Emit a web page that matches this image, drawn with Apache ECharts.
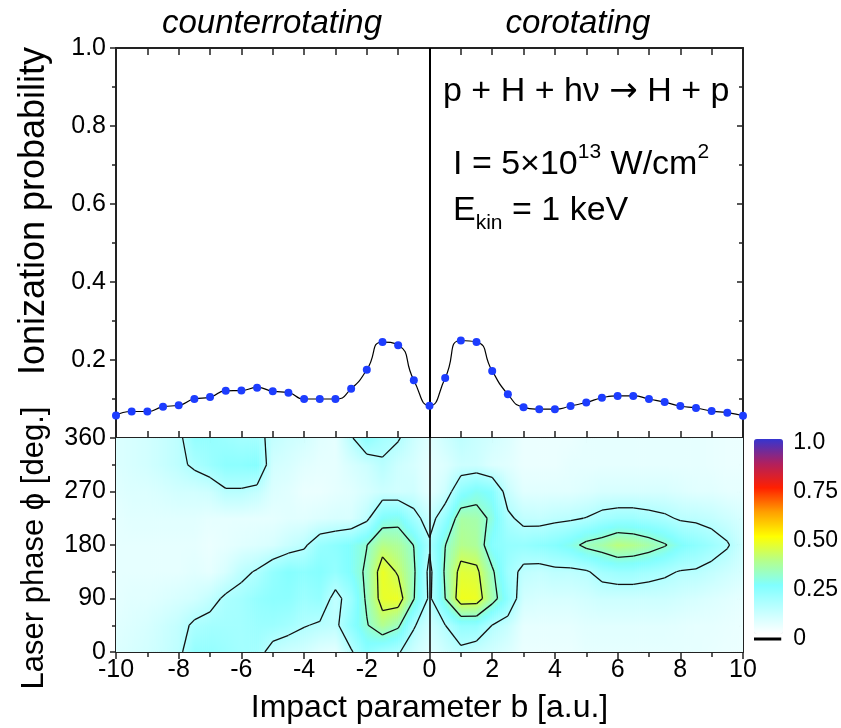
<!DOCTYPE html>
<html>
<head>
<meta charset="utf-8">
<script src="https://cdn.jsdelivr.net/npm/echarts@6/dist/echarts.min.js"></script>
<style>
html,body{margin:0;padding:0;background:#fff;}
#chart{width:841px;height:728px;}
</style>
</head>
<body>
<div id="chart"></div>
<script>
// ---------------- data ----------------
const impactB = [-10,-9.5,-9,-8.5,-8,-7.5,-7,-6.5,-6,-5.5,-5,-4.5,-4,-3.5,-3,-2.5,-2,-1.5,-1,-0.5,0,0.5,1,1.5,2,2.5,3,3.5,4,4.5,5,5.5,6,6.5,7,7.5,8,8.5,9,9.5,10];
const ionizationProbability = [0.058,0.068,0.068,0.080,0.084,0.100,0.105,0.121,0.122,0.129,0.120,0.116,0.100,0.100,0.100,0.126,0.175,0.246,0.238,0.148,0.083,0.154,0.250,0.246,0.172,0.112,0.079,0.074,0.074,0.082,0.091,0.103,0.108,0.108,0.100,0.092,0.082,0.077,0.069,0.065,0.057];

const phaseGrid = [0,45,90,135,180,225,270,315,360];
const phaseRow0   = [0.07,0.08,0.09,0.11,0.13,0.21,0.21,0.195,0.18,0.18,0.12,0.10,0.09,0.06,0.05,0.14,0.225,0.175,0.158,0.10,0.06,0.10,0.13,0.107,0.09,0.07,0.04,0.04,0.04,0.04,0.05,0.05,0.05,0.05,0.05,0.05,0.05,0.05,0.045,0.04,0.04];
const phaseRow45  = [0.06,0.07,0.08,0.10,0.12,0.165,0.18,0.18,0.18,0.195,0.195,0.18,0.155,0.14,0.13,0.225,0.293,0.371,0.318,0.159,0.09,0.149,0.212,0.212,0.149,0.11,0.05,0.05,0.05,0.05,0.06,0.06,0.06,0.06,0.06,0.06,0.055,0.05,0.05,0.045,0.04];
const phaseRow90  = [0.05,0.06,0.06,0.07,0.08,0.09,0.12,0.165,0.18,0.21,0.225,0.225,0.195,0.21,0.12,0.195,0.315,0.46,0.47,0.305,0.13,0.30,0.475,0.47,0.338,0.225,0.09,0.08,0.08,0.08,0.09,0.10,0.10,0.10,0.10,0.10,0.09,0.08,0.07,0.06,0.05];
const phaseRow135 = [0.05,0.05,0.05,0.05,0.05,0.06,0.05,0.08,0.13,0.158,0.21,0.24,0.225,0.24,0.21,0.255,0.315,0.47,0.41,0.315,0.12,0.315,0.45,0.44,0.315,0.19,0.127,0.117,0.131,0.13,0.141,0.18,0.195,0.195,0.18,0.165,0.145,0.141,0.12,0.10,0.08];
const phaseRow180 = [0.05,0.05,0.05,0.05,0.05,0.05,0.04,0.05,0.06,0.07,0.08,0.11,0.136,0.204,0.225,0.255,0.298,0.38,0.36,0.298,0.165,0.298,0.375,0.36,0.236,0.21,0.207,0.225,0.24,0.27,0.323,0.345,0.39,0.375,0.345,0.308,0.255,0.225,0.195,0.158,0.10];
const phaseRow225 = [0.05,0.06,0.06,0.06,0.06,0.06,0.05,0.05,0.05,0.05,0.05,0.06,0.06,0.07,0.08,0.08,0.13,0.254,0.27,0.18,0.11,0.21,0.348,0.339,0.281,0.167,0.125,0.119,0.131,0.138,0.153,0.18,0.195,0.195,0.18,0.165,0.14,0.134,0.12,0.10,0.08];
const phaseRow270 = [0.06,0.07,0.07,0.08,0.09,0.09,0.10,0.14,0.14,0.12,0.07,0.06,0.04,0.04,0.05,0.06,0.08,0.10,0.092,0.096,0.05,0.10,0.222,0.263,0.24,0.11,0.06,0.06,0.06,0.06,0.07,0.08,0.08,0.08,0.08,0.08,0.07,0.06,0.06,0.05,0.05];
const phaseRow315 = [0.07,0.08,0.09,0.11,0.13,0.165,0.195,0.225,0.225,0.24,0.09,0.08,0.06,0.05,0.05,0.08,0.10,0.14,0.10,0.08,0.05,0.07,0.10,0.10,0.07,0.06,0.04,0.04,0.04,0.05,0.05,0.05,0.05,0.05,0.05,0.05,0.05,0.05,0.045,0.04,0.04];
const phaseRow360 = phaseRow0; // phase is periodic: 360 deg equals 0 deg

const contourLevels = [0.15, 0.30, 0.42];
const colorbarColors = ['#ffffff','#c0ffff','#80ffff','#b4ff8c','#ffff00','#ffa000','#ff2000','#b0205f','#3535d0'];
const colorbarTickLabels = ['0','0.25','0.50','0.75','1.0'];
const colorbarZeroLine = [0];
const regimeDivider = 0;

// ---------------- helpers ----------------
const mapGrid = [phaseRow0,phaseRow45,phaseRow90,phaseRow135,phaseRow180,phaseRow225,phaseRow270,phaseRow315,phaseRow360];
const FONT = "'Liberation Sans', Arial, sans-serif";

function hexToRgb(h){ return [parseInt(h.substr(1,2),16),parseInt(h.substr(3,2),16),parseInt(h.substr(5,2),16)]; }
const rgbStops = colorbarColors.map(hexToRgb);
function colorAt(v){
  const n = rgbStops.length - 1;
  const x = Math.max(0, Math.min(1, v)) * n;
  const k = Math.min(n - 1, Math.floor(x));
  const t = x - k;
  const c1 = rgbStops[k], c2 = rgbStops[k + 1];
  return 'rgb(' + [0,1,2].map(q => Math.round(c1[q] + (c2[q] - c1[q]) * t)).join(',') + ')';
}

const cellData = [];
for (let j = 0; j < phaseGrid.length - 1; j++) {
  for (let i = 0; i < impactB.length - 1; i++) {
    cellData.push([impactB[i], phaseGrid[j], i, j, mapGrid[j][i]]);
  }
}

function buildContours(){
  const segs = [];
  contourLevels.forEach((L, li) => {
    for (let j = 0; j < phaseGrid.length - 1; j++) {
      for (let i = 0; i < impactB.length - 1; i++) {
        const x0 = impactB[i], x1 = impactB[i+1], y0 = phaseGrid[j], y1 = phaseGrid[j+1];
        const a = mapGrid[j][i], b = mapGrid[j][i+1], c = mapGrid[j+1][i+1], d = mapGrid[j+1][i];
        const cross = (xa, ya, va, xb, yb, vb) => { const t = (L - va) / (vb - va); return [xa + (xb - xa) * t, ya + (yb - ya) * t]; };
        const eB = ((a >= L) !== (b >= L)) ? cross(x0,y0,a,x1,y0,b) : null;
        const eR = ((b >= L) !== (c >= L)) ? cross(x1,y0,b,x1,y1,c) : null;
        const eT = ((d >= L) !== (c >= L)) ? cross(x0,y1,d,x1,y1,c) : null;
        const eL = ((a >= L) !== (d >= L)) ? cross(x0,y0,a,x0,y1,d) : null;
        const pts = [eB,eR,eT,eL].filter(Boolean);
        if (pts.length === 2) {
          segs.push([pts[0][0],pts[0][1],pts[1][0],pts[1][1],li]);
        } else if (pts.length === 4) {
          const center = (a + b + c + d) / 4;
          if ((center >= L) === (a >= L)) {
            segs.push([eB[0],eB[1],eR[0],eR[1],li]);
            segs.push([eT[0],eT[1],eL[0],eL[1],li]);
          } else {
            segs.push([eL[0],eL[1],eB[0],eB[1],li]);
            segs.push([eR[0],eR[1],eT[0],eT[1],li]);
          }
        }
      }
    }
  });
  return segs;
}
const contourSegments = buildContours();

function renderCell(params, api){
  const i = api.value(2), j = api.value(3);
  const p0 = api.coord([impactB[i], phaseGrid[j]]);
  const p1 = api.coord([impactB[i+1], phaseGrid[j+1]]);
  const a = mapGrid[j][i], b = mapGrid[j][i+1], c = mapGrid[j+1][i+1], d = mapGrid[j+1][i];
  const NS = 8;
  const w = (p1[0] - p0[0]) / NS;
  const h = p0[1] - p1[1];
  const children = [];
  for (let k = 0; k < NS; k++) {
    const u = (k + 0.5) / NS;
    const vb = a + (b - a) * u, vt = d + (c - d) * u;
    const stops = [];
    for (let s = 0; s <= 6; s++) { const t = s / 6; stops.push({offset: t, color: colorAt(vb + (vt - vb) * t)}); }
    children.push({
      type: 'rect',
      shape: {x: p0[0] + k * w, y: p1[1], width: w + 0.7, height: h + 0.7},
      style: {fill: {type: 'linear', x: 0, y: 1, x2: 0, y2: 0, colorStops: stops}}
    });
  }
  return {type: 'group', children};
}

function renderSegment(params, api){
  const p1 = api.coord([api.value(0), api.value(1)]);
  const p2 = api.coord([api.value(2), api.value(3)]);
  return {type: 'line', shape: {x1: p1[0], y1: p1[1], x2: p2[0], y2: p2[1]}, style: {stroke: '#111', lineWidth: 1.3}};
}

function renderZeroLine(params, api){
  const p = api.coord([0, api.value(1)]);
  const cs = params.coordSys;
  return {type: 'line', shape: {x1: cs.x, y1: p[1], x2: cs.x + cs.width, y2: p[1]}, style: {stroke: '#000', lineWidth: 3}};
}

// ---------------- chart ----------------
const AX = '#222';
const baseX = (grid, pos, extra) => Object.assign({
  type: 'value', gridIndex: grid, position: pos, min: -10, max: 10, interval: 2,
  axisLine: {show: true, onZero: false, lineStyle: {color: AX, width: 2}},
  axisTick: {show: true, inside: true, length: 7, lineStyle: {color: AX, width: 1.5}},
  minorTick: {show: true, splitNumber: 2, length: 7, lineStyle: {color: AX, width: 1.5}},
  splitLine: {show: false}, minorSplitLine: {show: false},
  axisLabel: {show: false}
}, extra || {});

const chart = echarts.init(document.getElementById('chart'), null, {renderer: 'canvas'});
chart.setOption({
  animation: false,
  backgroundColor: '#fff',
  textStyle: {fontFamily: FONT},
  grid: [
    {left: 116, right: 98, top: 48, height: 390},
    {left: 116, right: 98, top: 438, height: 214},
    {left: 754, width: 29, top: 443, height: 196}
  ],
  xAxis: [
    baseX(0, 'bottom'),
    baseX(0, 'top'),
    baseX(1, 'bottom', {
      axisTick: {show: true, inside: false, length: 7, lineStyle: {color: AX, width: 1.5}},
      minorTick: {show: true, splitNumber: 2, length: 5, lineStyle: {color: AX, width: 1.5}},
      axisLabel: {show: true, color: '#000', fontSize: 25, margin: 6, fontFamily: FONT},
      name: 'Impact parameter b [a.u.]', nameLocation: 'middle', nameGap: 40,
      nameTextStyle: {color: '#000', fontSize: 32, fontFamily: FONT}
    }),
    baseX(1, 'top', {axisTick: {show: true, inside: true, length: 5, lineStyle: {color: AX, width: 1.5}}, minorTick: {show: true, splitNumber: 2, length: 5, lineStyle: {color: AX, width: 1.5}}}),
    {type: 'value', gridIndex: 2, min: 0, max: 1, show: false}
  ],
  yAxis: [
    {type: 'value', gridIndex: 0, position: 'left', min: 0, max: 1, interval: 0.2,
     axisLine: {show: true, onZero: false, lineStyle: {color: AX, width: 2}},
     axisTick: {show: true, inside: false, length: 6, lineStyle: {color: AX, width: 1.5}},
     minorTick: {show: true, splitNumber: 2, length: 4, lineStyle: {color: AX, width: 1.5}},
     splitLine: {show: false},
     axisLabel: {show: true, showMinLabel: false, color: '#000', fontSize: 25, margin: 10, fontFamily: FONT, formatter: v => v.toFixed(1)}},
    {type: 'value', gridIndex: 0, position: 'right', min: 0, max: 1, interval: 0.2,
     axisLine: {show: true, onZero: false, lineStyle: {color: AX, width: 2}},
     axisTick: {show: true, inside: true, length: 6, lineStyle: {color: AX, width: 1.5}},
     minorTick: {show: true, splitNumber: 2, length: 4, lineStyle: {color: AX, width: 1.5}},
     splitLine: {show: false}, axisLabel: {show: false}},
    {type: 'value', gridIndex: 1, position: 'left', min: 0, max: 360, interval: 90,
     axisLine: {show: true, onZero: false, lineStyle: {color: AX, width: 2}},
     axisTick: {show: true, inside: false, length: 6, lineStyle: {color: AX, width: 1.5}},
     minorTick: {show: true, splitNumber: 2, length: 4, lineStyle: {color: AX, width: 1.5}},
     splitLine: {show: false},
     axisLabel: {show: true, color: '#000', fontSize: 25, margin: 10, fontFamily: FONT}},
    {type: 'value', gridIndex: 1, position: 'right', min: 0, max: 360, interval: 90,
     axisLine: {show: true, onZero: false, lineStyle: {color: AX, width: 2}},
     axisTick: {show: true, inside: true, length: 6, lineStyle: {color: AX, width: 1.5}},
     minorTick: {show: true, splitNumber: 2, length: 4, lineStyle: {color: AX, width: 1.5}},
     splitLine: {show: false}, axisLabel: {show: false}},
    {type: 'value', gridIndex: 2, position: 'right', min: 0, max: 1, interval: 0.25,
     axisLine: {show: false}, axisTick: {show: false}, splitLine: {show: false},
     axisLabel: {show: true, color: '#000', fontSize: 23, margin: 12, fontFamily: FONT,
       formatter: (v) => colorbarTickLabels[Math.round(v * 4)]}}
  ],
  visualMap: {
    type: 'continuous', min: 0, max: 1, seriesIndex: 1, dimension: 4,
    left: 754, top: 439, itemWidth: 29, itemHeight: 195, padding: 0,
    calculable: false, hoverLink: false, text: null, showLabel: false,
    inRange: {color: colorbarColors}
  },
  series: [
    {
      type: 'line', xAxisIndex: 0, yAxisIndex: 0, z: 4,
      data: impactB.map((b, k) => [b, ionizationProbability[k]]),
      smooth: 0.6, symbol: 'circle', symbolSize: 8, clip: false,
      itemStyle: {color: '#1d3dff', borderWidth: 0},
      lineStyle: {color: '#000', width: 1.2},
      markLine: {silent: true, symbol: 'none', label: {show: false}, z: 3,
        lineStyle: {color: '#000', width: 2, type: 'solid'}, data: [{xAxis: regimeDivider}]}
    },
    {
      type: 'custom', xAxisIndex: 2, yAxisIndex: 2, z: 1, clip: true, silent: true,
      renderItem: renderCell, data: cellData, encode: {x: 0, y: 1}
    },
    {
      type: 'custom', xAxisIndex: 2, yAxisIndex: 2, z: 3, clip: true, silent: true,
      renderItem: renderSegment, data: contourSegments, encode: {x: [0, 2], y: [1, 3]},
      markLine: {silent: true, symbol: 'none', label: {show: false},
        lineStyle: {color: '#111', width: 1.6, type: 'solid'}, data: [{xAxis: regimeDivider}]}
    },
    {
      type: 'custom', xAxisIndex: 4, yAxisIndex: 4, z: 3, silent: true,
      renderItem: renderZeroLine, data: colorbarZeroLine.map(v => [0.5, v]), encode: {x: 0, y: 1}
    }
  ],
  graphic: [
    {type: 'text', x: 272, y: 24, style: {text: 'counterrotating', font: 'italic 33px ' + FONT, fill: '#000', align: 'center', verticalAlign: 'middle'}},
    {type: 'text', x: 578, y: 24, style: {text: 'corotating', font: 'italic 33px ' + FONT, fill: '#000', align: 'center', verticalAlign: 'middle'}},
    {type: 'text', x: 443, y: 92, style: {
      text: '{m|p + H + hν }{a|\u2192}{m| H + p}', align: 'left', verticalAlign: 'middle', fill: '#000',
      rich: {m: {fontSize: 34, fontFamily: FONT, fill: '#000'},
             a: {fontSize: 34, fontFamily: "'DejaVu Sans', sans-serif", fill: '#000'}}}},
    {type: 'text', x: 453, y: 162, style: {
      text: '{m|I = 5×10}{s|13}{m| W/cm}{s|2}', align: 'left', verticalAlign: 'middle', fill: '#000',
      rich: {m: {fontSize: 34, fontFamily: FONT, lineHeight: 40, verticalAlign: 'bottom', fill: '#000'},
             s: {fontSize: 21, fontFamily: FONT, lineHeight: 22, verticalAlign: 'top', fill: '#000'}}}},
    {type: 'text', x: 453, y: 214, style: {
      text: '{m|E}{b|kin}{m| = 1 keV}', align: 'left', verticalAlign: 'middle', fill: '#000',
      rich: {m: {fontSize: 34, fontFamily: FONT, lineHeight: 40, verticalAlign: 'top', fill: '#000'},
             b: {fontSize: 21, fontFamily: FONT, lineHeight: 22, verticalAlign: 'bottom', fill: '#000'}}}},
    {type: 'text', x: 34, y: 211, rotation: Math.PI / 2, style: {text: 'Ionization probability', font: '36px ' + FONT, fill: '#000', align: 'center', verticalAlign: 'middle'}},
    {type: 'text', x: 34, y: 548, rotation: Math.PI / 2, style: {text: 'Laser phase \u03d5 [deg.]', font: '31px ' + FONT, fill: '#000', align: 'center', verticalAlign: 'middle'}}
  ]
});
</script>
</body>
</html>
